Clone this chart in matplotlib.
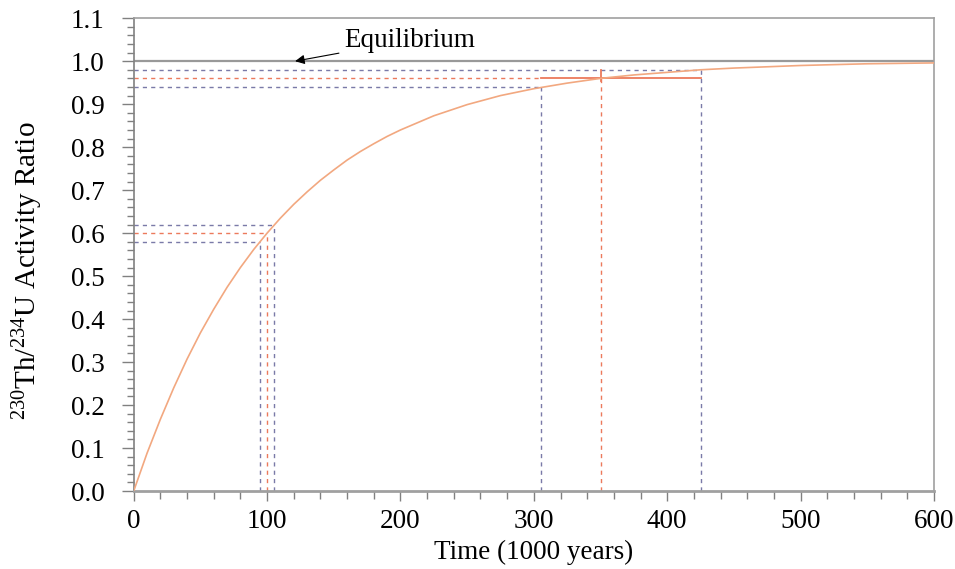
import matplotlib.pyplot as plt
from matplotlib.ticker import MultipleLocator

# ingrowth of 230Th toward secular equilibrium with 234U
time_ky = [0, 10, 20, 30, 40, 50, 60, 70, 80, 90, 100, 110, 120, 130, 140, 150,
           160, 170, 180, 190, 200, 225, 250, 275, 300, 325, 350, 375, 400,
           425, 450, 475, 500, 550, 600]
activity = [0.0, 0.088, 0.167, 0.240, 0.307, 0.368, 0.423, 0.474, 0.520, 0.562,
            0.600, 0.635, 0.667, 0.696, 0.723, 0.747, 0.770, 0.790, 0.808, 0.825,
            0.840, 0.873, 0.899, 0.920, 0.936, 0.949, 0.960, 0.968, 0.974,
            0.980, 0.984, 0.987, 0.990, 0.994, 0.996]

# example ages with their uncertainty windows
ages = [100, 350]
age_lo = [95, 305]
age_hi = [105, 425]
ratio = [0.60, 0.96]
ratio_lo = [0.58, 0.94]
ratio_hi = [0.62, 0.98]

plt.rcParams['font.family'] = ['Liberation Serif', 'DejaVu Serif']
plt.rcParams['mathtext.fontset'] = 'custom'
plt.rcParams['mathtext.rm'] = 'Liberation Serif'
plt.rcParams['mathtext.it'] = 'Liberation Serif:italic'

CURVE = '#f2a880'
RED = '#ec7a5c'
BLUE = '#7a7aa8'
SPINE = '#a0a0a0'
FS = 19.5

fig = plt.figure(figsize=(9.55, 5.69), dpi=100)
ax = fig.add_axes([0.140, 0.137, 0.838, 0.831])

ax.axhline(1.0, color='#999999', lw=1.6, zorder=2)

dash = dict(lw=1.0, dashes=(3, 3))
for i in range(len(ages)):
    # horizontal guides from the y axis
    ax.plot([0, age_lo[i]], [ratio_lo[i]] * 2, color=BLUE, **dash)
    ax.plot([0, age_hi[i]], [ratio_hi[i]] * 2, color=BLUE, **dash)
    # vertical guides down to the time axis
    ax.plot([age_lo[i]] * 2, [0, ratio_lo[i]], color=BLUE, **dash)
    ax.plot([age_hi[i]] * 2, [0, ratio_hi[i]], color=BLUE, **dash)

ax.plot([0, ages[0]], [ratio[0]] * 2, color=RED, **dash)
ax.plot([ages[0]] * 2, [0, ratio[0]], color=RED, **dash)
ax.plot([0, age_lo[1]], [ratio[1]] * 2, color=RED, **dash)
ax.plot([ages[1]] * 2, [0, ratio[1]], color=RED, **dash)
# age error bar of the older sample
ax.plot([age_lo[1], age_hi[1]], [ratio[1]] * 2, color=RED, lw=1.3)
ax.plot([ages[1]] * 2, [ratio[1] - 0.006, ratio_hi[1]], color=RED, lw=1.3)

ax.plot(time_ky, activity, color=CURVE, lw=1.2, zorder=3)

ax.annotate('Equilibrium', xy=(121, 1.0), xytext=(158, 1.049),
            fontsize=FS, va='center',
            arrowprops=dict(arrowstyle='-|>', color='black', lw=0.8,
                            mutation_scale=14, shrinkA=2, shrinkB=0))

ax.set_xlim(0, 600)
ax.set_ylim(0, 1.1)
ax.xaxis.set_major_locator(MultipleLocator(100))
ax.xaxis.set_minor_locator(MultipleLocator(20))
ax.yaxis.set_major_locator(MultipleLocator(0.1))
ax.yaxis.set_minor_locator(MultipleLocator(0.02))
ax.yaxis.set_major_formatter(lambda v, p: f'{v:.1f}')

for s in ax.spines.values():
    s.set_color(SPINE)
    s.set_linewidth(1.2)
ax.spines['bottom'].set_linewidth(2.0)
ax.spines['left'].set_color('#808080')

ax.tick_params(which='major', length=9, width=1.0, color='#808080', labelsize=FS)
ax.tick_params(which='minor', length=5, width=1.0, color='#808080')
ax.tick_params(axis='y', which='major', pad=12)
ax.tick_params(axis='x', which='major', length=7, pad=6)
ax.tick_params(axis='x', which='minor', length=6)

ax.set_xlabel('Time (1000 years)', fontsize=FS, labelpad=4)
ax.set_ylabel(r'$^{230}$Th/$^{234}$U Activity Ratio', fontsize=21)
ax.yaxis.set_label_coords(-0.111, 0.467)

fig.savefig('out.png', dpi=100)
